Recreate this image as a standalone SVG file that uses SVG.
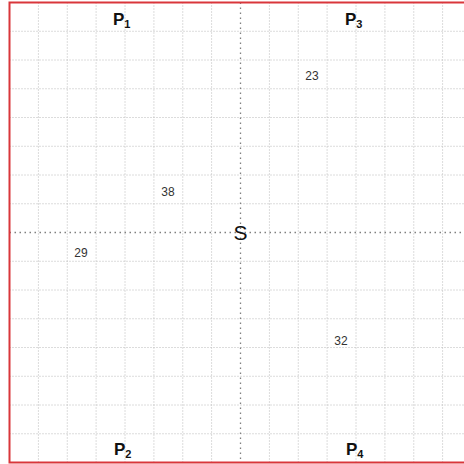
<svg xmlns="http://www.w3.org/2000/svg" width="464" height="464" viewBox="0 0 464 464">
<style>
.g{stroke:#b8b8b8;stroke-width:1;stroke-dasharray:1 2;fill:none}
.c{stroke:#808080;stroke-width:1.3;stroke-dasharray:1.5 3.5;fill:none}
.p{font-family:"Liberation Sans",Arial,sans-serif;font-weight:bold;font-size:17px;fill:#111}
.s{font-size:11px}
.n{font-family:"Liberation Sans",Arial,sans-serif;font-size:12px;fill:#333;text-anchor:middle}
</style>
<rect width="464" height="464" fill="#fff"/>
<g id="grid">
<path class="g" d="M38.4 2.5V462.5M67.25 2.5V462.5M96.1 2.5V462.5M125 2.5V462.5M153.9 2.5V462.5M182.75 2.5V462.5M211.6 2.5V462.5M269.4 2.5V462.5M298.25 2.5V462.5M327.1 2.5V462.5M356 2.5V462.5M384.9 2.5V462.5M413.75 2.5V462.5M442.6 2.5V462.5"/>
<path class="g" d="M9.5 31.25H464M9.5 60H464M9.5 88.75H464M9.5 117.5H464M9.5 146.25H464M9.5 175H464M9.5 203.75H464M9.5 261.25H464M9.5 290H464M9.5 318.75H464M9.5 347.5H464M9.5 376.25H464M9.5 405H464M9.5 433.75H464"/>
<path class="c" d="M240.5 2.5V462.5M9.5 232.5H464"/>
</g>
<rect id="border" x="9.5" y="2.5" width="462" height="460" fill="none" stroke="#d9363b" stroke-width="2"/>
<g id="P1"><text class="p" x="113" y="25">P<tspan class="s" dy="3">1</tspan></text></g>
<g id="P3"><text class="p" x="345" y="25">P<tspan class="s" dy="3">3</tspan></text></g>
<g id="P2"><text class="p" x="114" y="455">P<tspan class="s" dy="3">2</tspan></text></g>
<g id="P4"><text class="p" x="346" y="455">P<tspan class="s" dy="3">4</tspan></text></g>
<g id="S"><text x="240.5" y="240" font-family="'Liberation Sans',Arial,sans-serif" font-size="21" text-anchor="middle" fill="#111">S</text></g>
<g id="labels">
<text class="n" x="312" y="80">23</text>
<text class="n" x="168" y="196">38</text>
<text class="n" x="81" y="257">29</text>
<text class="n" x="341" y="345">32</text>
</g>
</svg>
